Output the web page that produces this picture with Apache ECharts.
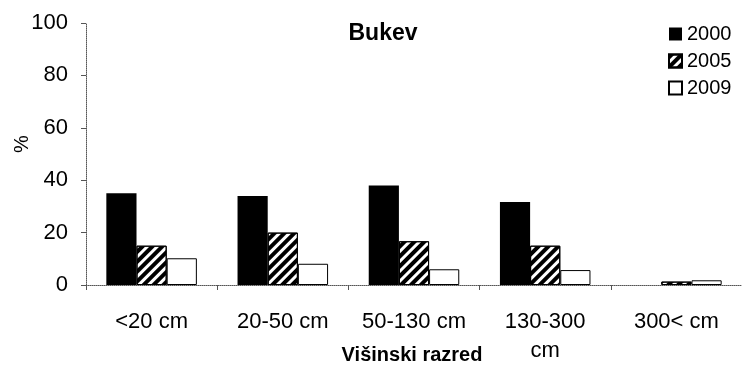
<!DOCTYPE html>
<html><head><meta charset="utf-8">
<script src="https://cdn.jsdelivr.net/npm/echarts@6/dist/echarts.min.js"></script>
<style>html,body{margin:0;padding:0;background:#fff}#c{width:742px;height:365px}</style>
</head><body><div id="c"></div>
<script>
var categories = ['<20 cm', '20-50 cm', '50-130 cm', '130-300\ncm', '300< cm'];
var s2000 = [35, 34, 38, 31.7, 0];
var s2005 = [15, 20, 16.7, 15, 1.3];
var s2009 = [10.2, 8.1, 6, 5.7, 1.8];
var yTicks = [0, 20, 40, 60, 80, 100];

var chart = echarts.init(document.getElementById('c'), null, {renderer:'canvas'});
var font = '"Liberation Sans", Arial, sans-serif';
var hatchDecal = {symbol: 'rect', symbolSize: 1, dashArrayX: [[1, 0]], dashArrayY: [4, 3],
  rotation: -Math.PI / 4, color: '#000'};
chart.setOption({
  animation: false,
  textStyle: {fontFamily: font},
  title: {text: 'Bukev', left: 378, top: 17, textAlign: 'center',
    textStyle: {fontSize: 23, fontWeight: 'bold', color: '#000', fontFamily: font}},
  legend: {orient: 'vertical', left: 663, top: 19, itemWidth: 13, itemHeight: 13, itemGap: 7,
    icon: 'rect',
    textStyle: {fontSize: 20, color: '#000', fontFamily: font},
    data: ['2000', '2005', '2009']},
  grid: {left: 86, right: 0, top: 23, bottom: 79},
  graphic: [
    {type: 'text', x: 412, y: 355, style: {text: 'Višinski razred', font: 'bold 20px ' + font, fill: '#000', align: 'center', verticalAlign: 'middle'}},
    {type: 'text', x: 22, y: 144, rotation: Math.PI/2, style: {text: '%', font: '20px ' + font, fill: '#000', align: 'center', verticalAlign: 'middle'}}
  ],
  xAxis: {type: 'category', data: categories,
    axisLine: {lineStyle: {color: '#555', type: 'dotted', width: 1}},
    axisTick: {show: true, length: 5, lineStyle: {color: '#555'}},
    axisLabel: {interval: 0, hideOverlap: false, fontSize: 22, color: '#000', margin: 22, lineHeight: 29, fontFamily: font}},
  yAxis: {type: 'value', min: 0, max: 100, interval: 20,
    splitLine: {show: false},
    axisLine: {show: true, lineStyle: {color: '#555', type: 'dotted', width: 1}},
    axisTick: {show: true, length: 5, lineStyle: {color: '#555'}},
    axisLabel: {fontSize: 22, color: '#000', margin: 18, fontFamily: font,
      formatter: function(v){ return yTicks.indexOf(v) >= 0 ? String(v) : ''; }}},
  series: [
    {name: '2000', type: 'bar', data: s2000, barGap: '0%', barCategoryGap: '31%',
      itemStyle: {color: '#000', borderWidth: 0}},
    {name: '2005', type: 'bar', data: s2005,
      itemStyle: {color: '#fff', borderColor: '#000', borderWidth: 1, decal: hatchDecal}},
    {name: '2009', type: 'bar', data: s2009,
      itemStyle: {color: '#fff', borderColor: '#000', borderWidth: 1}}
  ]
});
</script></body></html>
